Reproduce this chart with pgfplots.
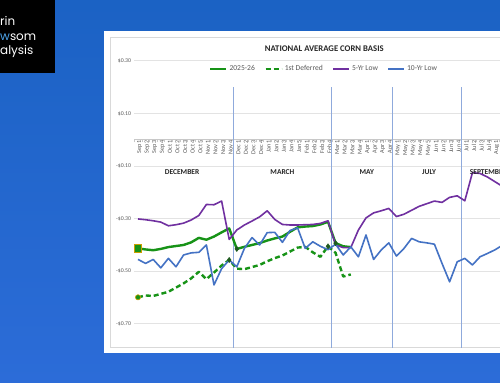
\documentclass[border=0pt]{standalone}
\usepackage{pgfplots}
\pgfplotsset{compat=1.18}
\usepackage{pgfplotstable}
\usepackage{fontspec}
\setmainfont{Carlito}
\newfontfamily\logofont{Poppins}
\definecolor{bgtop}{HTML}{1B62C4}
\definecolor{bgbot}{HTML}{2C6CD8}
\definecolor{cgreen}{HTML}{179317}
\definecolor{cdkgreen}{HTML}{1F5A1F}
\definecolor{cpurple}{HTML}{7030A0}
\definecolor{cblue}{HTML}{4472C4}
\definecolor{cvline}{HTML}{8FAADC}
\definecolor{cgrid}{HTML}{E3E3E3}
\definecolor{caxis}{HTML}{C8C8C8}
\definecolor{ctext}{HTML}{595959}
\definecolor{ctitle}{HTML}{262626}
\definecolor{cgold}{HTML}{C9A000}
\definecolor{clogoblue}{HTML}{4DA3E8}
\definecolor{cborder}{HTML}{D9D9D9}

\pgfplotstableread{
i g d p b
0 -0.413 -0.599 -0.301 -0.455
1 -0.417 -0.592 -0.304 -0.470
2 -0.420 -0.594 -0.308 -0.455
3 -0.415 -0.586 -0.313 -0.487
4 -0.408 -0.578 -0.327 -0.451
5 -0.404 -0.562 -0.323 -0.483
6 -0.400 -0.546 -0.317 -0.438
7 -0.390 -0.527 -0.305 -0.430
8 -0.373 -0.502 -0.288 -0.428
9 -0.380 -0.530 -0.246 -0.400
10 -0.368 -0.505 -0.247 -0.552
11 -0.352 -0.478 -0.233 -0.490
12 -0.337 -0.457 -0.379 -0.457
13 -0.415 -0.490 -0.343 -0.483
14 -0.407 -0.492 -0.324 -0.413
15 -0.400 -0.484 -0.309 -0.372
16 -0.393 -0.476 -0.293 -0.400
17 -0.383 -0.462 -0.270 -0.353
18 -0.375 -0.450 -0.303 -0.352
19 -0.368 -0.440 -0.322 -0.390
20 -0.350 -0.425 -0.324 -0.345
21 -0.333 -0.410 -0.324 -0.335
22 -0.330 -0.407 -0.323 -0.413
23 -0.328 -0.428 -0.322 -0.388
24 -0.322 -0.445 -0.318 -0.405
25 -0.312 -0.405 -0.308 -0.418
26 -0.393 -0.430 -0.400 -0.397
27 -0.405 -0.520 -0.410 -0.438
28 -0.408 -0.512 -0.410 -0.407
29 nan nan -0.343 -0.445
30 nan nan -0.297 -0.362
31 nan nan -0.278 -0.455
32 nan nan -0.270 -0.419
33 nan nan -0.261 -0.392
34 nan nan -0.292 -0.442
35 nan nan -0.283 -0.413
36 nan nan -0.268 -0.375
37 nan nan -0.253 -0.388
38 nan nan -0.243 -0.392
39 nan nan -0.233 -0.397
40 nan nan -0.238 -0.470
41 nan nan -0.219 -0.540
42 nan nan -0.213 -0.464
43 nan nan -0.232 -0.451
44 nan nan -0.125 -0.476
45 nan nan -0.128 -0.445
46 nan nan -0.142 -0.432
47 nan nan -0.160 -0.418
48 nan nan -0.178 -0.400
}\datatable

\begin{document}
\begin{tikzpicture}
\useasboundingbox (0,0) rectangle (500bp,-383bp);
\clip (0,0) rectangle (500bp,-383bp);
\begin{scope}[x=1bp,y=-1bp]
\shade[top color=bgtop,bottom color=bgbot] (0,0) rectangle (500,383);
\fill[black] (0,0) rectangle (55,73);
\node[anchor=base west, inner sep=0pt, font=\logofont\fontsize{12}{12}\selectfont, text=white] at (0,25) {rin};
\node[anchor=base west, inner sep=0pt, font=\logofont\fontsize{12}{12}\selectfont, text=white] at (0,40.5) {\textcolor{clogoblue}{w}som};
\node[anchor=base west, inner sep=0pt, font=\logofont\fontsize{12}{12}\selectfont, text=white] at (0,54) {alysis};
\fill[white] (104,31) rectangle (510,353);
\draw[cborder, line width=0.8] (110,37) rectangle (515,347);
\node[font=\bfseries\fontsize{8.7}{9}\selectfont, text=ctitle] at (324.3,48.3) {NATIONAL AVERAGE CORN BASIS};
\end{scope}
\begin{axis}[
  at={(134.2bp,-347bp)}, anchor=south west,
  scale only axis, width=365.8bp, height=286.1bp,
  xmin=-0.5, xmax=47.63, ymin=-0.788, ymax=0.30,
  axis x line=middle, axis y line=left,
  axis line style={-},
  y axis line style={draw=none},
  x axis line style={draw=caxis, line width=0.7bp},
  hide obscured x ticks=false,
  ytick={-0.7,-0.5,-0.3,-0.1,0.1,0.3},
  yticklabels={-\$0.70,-\$0.50,-\$0.30,-\$0.10,\$0.10,\$0.30},
  ymajorgrids, grid style={cgrid, line width=0.8bp},
  ytick style={draw=none},
  yticklabel style={font=\fontsize{5.8}{6}\selectfont, text=ctext, anchor=east, inner sep=0pt, xshift=-3bp},
  xtick={0,...,48},
  xticklabels={Sep 1,Sep 2,Sep 3,Sep 4,Oct 1,Oct 2,Oct 3,Oct 4,Oct 5,Nov 1,Nov 2,Nov 3,Nov 4,Dec 1,Dec 2,Dec 3,Dec 4,Jan 1,Jan 2,Jan 3,Jan 4,Jan 5,Feb 1,Feb 2,Feb 3,Feb 4,Mar 1,Mar 2,Mar 3,Mar 4,Apr 1,Apr 2,Apr 3,Apr 4,May 1,May 2,May 3,May 4,May 5,Jun 1,Jun 2,Jun 3,Jun 4,Jul 1,Jul 2,Jul 3,Jul 4,Aug 1,Aug 2},
  xticklabel style={rotate=90, anchor=east, font=\fontsize{6.2}{6.5}\selectfont, text=ctext, inner sep=0pt, yshift=-1.5bp},
  minor xtick={-0.5,0.5,...,47.5},
  major tick length=0pt, minor tick length=2.5bp, tick align=outside,
  minor tick style={caxis, line width=0.6bp},
  legend style={at={(0.517,0.9717)}, anchor=center, draw=none, fill=none,
    font=\color{ctext}\fontsize{7.6}{8}\selectfont, legend columns=4,
    /tikz/every odd column/.append style={column sep=1.5bp},
    /tikz/every even column/.append style={column sep=9bp},
    inner sep=0pt, nodes={inner sep=0.5bp}},
  legend cell align=left,
  legend image code/.code={\draw[#1] (0bp,0bp) -- (16bp,0bp);},
]
\addplot[cvline, line width=1bp, forget plot] coordinates {(12.5,0.2) (12.5,-0.80)};
\addplot[cvline, line width=1bp, forget plot] coordinates {(25.5,0.2) (25.5,-0.80)};
\addplot[cvline, line width=1bp, forget plot] coordinates {(33.5,0.2) (33.5,-0.80)};
\addplot[cvline, line width=1bp, forget plot] coordinates {(42.5,0.2) (42.5,-0.80)};
\addplot[cgreen, line width=2.4bp, line join=round] table[x=i,y=g] {\datatable};
\addlegendentry{2025-26}
\addplot[cgreen, line width=2.4bp, line join=round, dash pattern=on 5bp off 3bp] table[x=i,y=d] {\datatable};
\addlegendentry{1st Deferred}
\addplot[cpurple, line width=1.6bp, line join=round] table[x=i,y=p] {\datatable};
\addlegendentry{5-Yr Low}
\addplot[cblue, line width=1.6bp, line join=round] table[x=i,y=b] {\datatable};
\addlegendentry{10-Yr Low}
\addplot[only marks, mark=square*, mark size=3.6bp, mark options={fill=cgreen, draw=cgold, line width=0.8bp, solid}, forget plot] coordinates {(0,-0.413)};
\addplot[only marks, mark=*, mark size=2.6bp, mark options={fill=cgreen, draw=cgold, line width=0.6bp, solid}, forget plot] coordinates {(0,-0.599)};
\addplot[only marks, mark=diamond*, mark size=2.6bp, mark options={fill=cdkgreen, draw=cdkgreen, solid}, forget plot] coordinates {(12,-0.457) (13,-0.415) (25,-0.405) (26,-0.393)};
\node[font=\bfseries\fontsize{7.5}{8}\selectfont, text=ctitle] at (axis cs:5.8,-0.123) {DECEMBER};
\node[font=\bfseries\fontsize{7.5}{8}\selectfont, text=ctitle] at (axis cs:19,-0.123) {MARCH};
\node[font=\bfseries\fontsize{7.5}{8}\selectfont, text=ctitle] at (axis cs:30.1,-0.123) {MAY};
\node[font=\bfseries\fontsize{7.5}{8}\selectfont, text=ctitle] at (axis cs:38.3,-0.123) {JULY};
\node[font=\bfseries\fontsize{7.5}{8}\selectfont, text=ctitle, anchor=west] at (axis cs:43.2,-0.123) {SEPTEMBER};
\end{axis}
\end{tikzpicture}
\end{document}
